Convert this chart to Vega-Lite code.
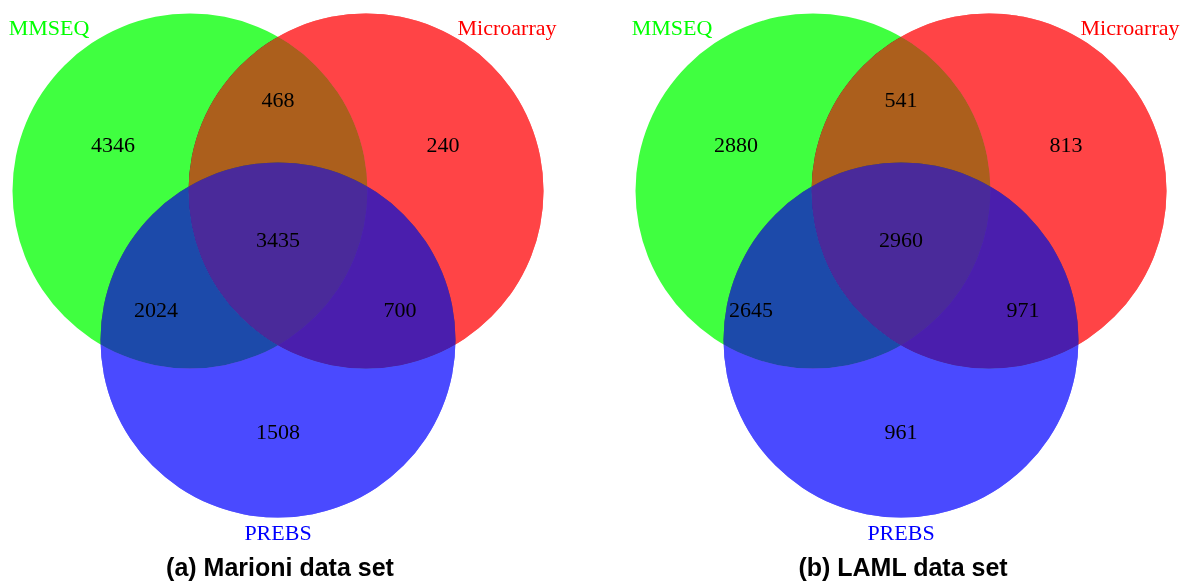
{
  "$schema": "https://vega.github.io/schema/vega-lite/v6.json",
  "padding": 0,
  "background": "white",
  "config": {"view": {"stroke": null}},
  "data": {"values": [
    {"panel": "(a) Marioni data set", "kind": "circle", "set": "MMSEQ", "x": 190, "y": 191},
    {"panel": "(a) Marioni data set", "kind": "circle", "set": "Microarray", "x": 366, "y": 191},
    {"panel": "(a) Marioni data set", "kind": "circle", "set": "PREBS", "x": 278, "y": 340},
    {"panel": "(a) Marioni data set", "kind": "count", "label": "4346", "x": 113, "y": 152},
    {"panel": "(a) Marioni data set", "kind": "count", "label": "468", "x": 278, "y": 107},
    {"panel": "(a) Marioni data set", "kind": "count", "label": "240", "x": 443, "y": 152},
    {"panel": "(a) Marioni data set", "kind": "count", "label": "3435", "x": 278, "y": 247},
    {"panel": "(a) Marioni data set", "kind": "count", "label": "2024", "x": 156, "y": 317},
    {"panel": "(a) Marioni data set", "kind": "count", "label": "700", "x": 400, "y": 317},
    {"panel": "(a) Marioni data set", "kind": "count", "label": "1508", "x": 278, "y": 439},
    {"panel": "(a) Marioni data set", "kind": "setlabel", "set": "MMSEQ", "x": 49, "y": 35},
    {"panel": "(a) Marioni data set", "kind": "setlabel", "set": "Microarray", "x": 507, "y": 35},
    {"panel": "(a) Marioni data set", "kind": "setlabel", "set": "PREBS", "x": 278, "y": 540},
    {"panel": "(b) LAML data set", "kind": "circle", "set": "MMSEQ", "x": 190, "y": 191},
    {"panel": "(b) LAML data set", "kind": "circle", "set": "Microarray", "x": 366, "y": 191},
    {"panel": "(b) LAML data set", "kind": "circle", "set": "PREBS", "x": 278, "y": 340},
    {"panel": "(b) LAML data set", "kind": "count", "label": "2880", "x": 113, "y": 152},
    {"panel": "(b) LAML data set", "kind": "count", "label": "541", "x": 278, "y": 107},
    {"panel": "(b) LAML data set", "kind": "count", "label": "813", "x": 443, "y": 152},
    {"panel": "(b) LAML data set", "kind": "count", "label": "2960", "x": 278, "y": 247},
    {"panel": "(b) LAML data set", "kind": "count", "label": "2645", "x": 128, "y": 317},
    {"panel": "(b) LAML data set", "kind": "count", "label": "971", "x": 400, "y": 317},
    {"panel": "(b) LAML data set", "kind": "count", "label": "961", "x": 278, "y": 439},
    {"panel": "(b) LAML data set", "kind": "setlabel", "set": "MMSEQ", "x": 49, "y": 35},
    {"panel": "(b) LAML data set", "kind": "setlabel", "set": "Microarray", "x": 507, "y": 35},
    {"panel": "(b) LAML data set", "kind": "setlabel", "set": "PREBS", "x": 278, "y": 540}
  ]},
  "facet": {
    "column": {
      "field": "panel",
      "type": "nominal",
      "title": null,
      "header": {
        "labelOrient": "bottom",
        "labelFont": "Liberation Sans",
        "labelFontSize": 25,
        "labelFontWeight": "bold",
        "labelColor": "black",
        "labelPadding": 11
      }
    }
  },
  "spacing": 63,
  "spec": {
    "width": 560,
    "height": 545,
    "encoding": {
      "x": {"field": "x", "type": "quantitative", "scale": {"domain": [0, 560], "nice": false, "zero": false}, "axis": null},
      "y": {"field": "y", "type": "quantitative", "scale": {"domain": [0, 545], "nice": false, "zero": false, "reverse": true}, "axis": null}
    },
    "layer": [
      {
        "transform": [{"filter": "datum.kind == 'circle' && datum.set == 'MMSEQ'"}],
        "mark": {"type": "point", "shape": "circle", "filled": true, "size": 126025, "color": "#40ff40", "opacity": 1, "strokeWidth": 0}
      },
      {
        "transform": [{"filter": "datum.kind == 'circle' && datum.set == 'Microarray'"}],
        "mark": {"type": "point", "shape": "circle", "filled": true, "size": 126025, "color": "#ff0000", "opacity": 0.565, "strokeWidth": 0}
      },
      {
        "transform": [{"filter": "datum.kind == 'circle' && datum.set == 'Microarray'"}],
        "mark": {"type": "point", "shape": "circle", "filled": true, "size": 126025, "color": "#ff4446", "opacity": 1, "strokeWidth": 0, "blend": "darken"}
      },
      {
        "transform": [{"filter": "datum.kind == 'circle' && datum.set == 'MMSEQ'"}],
        "mark": {"type": "point", "shape": "circle", "filled": true, "size": 126025, "color": "#005f00", "opacity": 1, "strokeWidth": 0, "blend": "lighten"}
      },
      {
        "transform": [{"filter": "datum.kind == 'circle' && datum.set == 'PREBS'"}],
        "mark": {"type": "point", "shape": "circle", "filled": true, "size": 126025, "color": "#0000ff", "opacity": 0.555, "strokeWidth": 0}
      },
      {
        "transform": [{"filter": "datum.kind == 'circle' && datum.set == 'PREBS'"}],
        "mark": {"type": "point", "shape": "circle", "filled": true, "size": 126025, "color": "#4a4aff", "opacity": 1, "strokeWidth": 0, "blend": "darken"}
      },
      {
        "transform": [{"filter": "datum.kind == 'count'"}],
        "mark": {"type": "text", "font": "Liberation Serif", "fontSize": 22, "align": "center", "baseline": "alphabetic", "color": "black"},
        "encoding": {"text": {"field": "label", "type": "nominal"}}
      },
      {
        "transform": [{"filter": "datum.kind == 'setlabel'"}],
        "mark": {"type": "text", "font": "Liberation Serif", "fontSize": 22, "align": "center", "baseline": "alphabetic"},
        "encoding": {
          "text": {"field": "set", "type": "nominal"},
          "color": {"field": "set", "type": "nominal", "scale": {"domain": ["MMSEQ", "Microarray", "PREBS"], "range": ["#00ff00", "#ff0000", "#0000ff"]}, "legend": null}
        }
      }
    ]
  }
}
